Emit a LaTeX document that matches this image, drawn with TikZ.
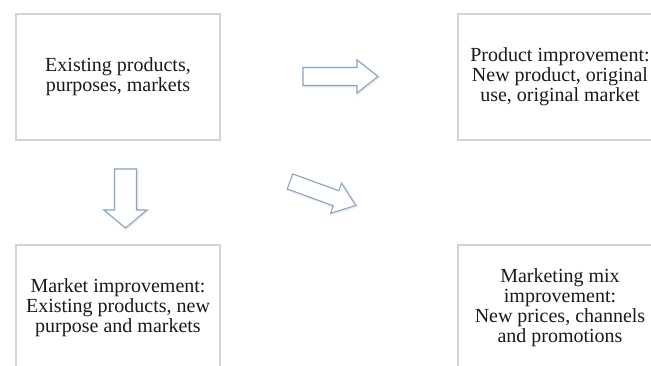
\documentclass[tikz,border=0pt]{standalone}
\usepackage{fontspec}
\setmainfont{Liberation Serif}
\usetikzlibrary{shadows}

\definecolor{boxline}{HTML}{D4D4D4}
\definecolor{arrowline}{HTML}{8CA2BD}
\definecolor{textgrey}{HTML}{1A1A1A}

\tikzset{
  pics/blockarrow/.style args={#1/#2/#3/#4}{code={
    % #1 length, #2 half shaft, #3 half head, #4 head length
    \draw[arrowstroke] (0,-#2) -- ({#1-#4},-#2) -- ({#1-#4},-#3) -- (#1,0)
      -- ({#1-#4},#3) -- ({#1-#4},#2) -- (0,#2) -- cycle;
  }}
}

\begin{document}
\begin{tikzpicture}[
  x=0.75pt, y=0.75pt,
  box/.style={draw=boxline, line width=0.8pt, fill=white,
    minimum width=153pt, minimum height=94.5pt,
    drop shadow={opacity=0.12, shadow xshift=0.8pt, shadow yshift=-0.8pt},
    align=center, text=textgrey,
    font=\fontsize{15}{15}\selectfont},
  arrowstroke/.style={draw=arrowline, line width=0.8pt, fill=white,
    line join=miter,
    preaction={draw=arrowline!35, line width=2pt, opacity=0.5,
      transform canvas={xshift=0.6pt, yshift=-0.6pt}}}
]
  \useasboundingbox (0,0) rectangle (651,365);
  \clip (0,0) rectangle (651,365);

  % the four boxes
  \node[box] (existing) at (118,288) {Existing products,\\purposes, markets};
  \node[box] (product) at (560,288) {Product improvement:\\New product, original\\use, original market};
  \node[box] (market) at (118,57) {Market improvement:\\Existing products, new\\purpose and markets};
  \node[box] (mix) at (560,57) {Marketing mix\\improvement:\\New prices, channels\\and promotions};

  % block arrows between them
  \pic at (303,288.5) {blockarrow={75/9/16.5/21}};
  \pic[rotate=-90] at (125.5,196) {blockarrow={59/11/21.5/18}};
  \pic[rotate=-20] at (290,183.5) {blockarrow={70/8/16/21}};
\end{tikzpicture}
\end{document}
